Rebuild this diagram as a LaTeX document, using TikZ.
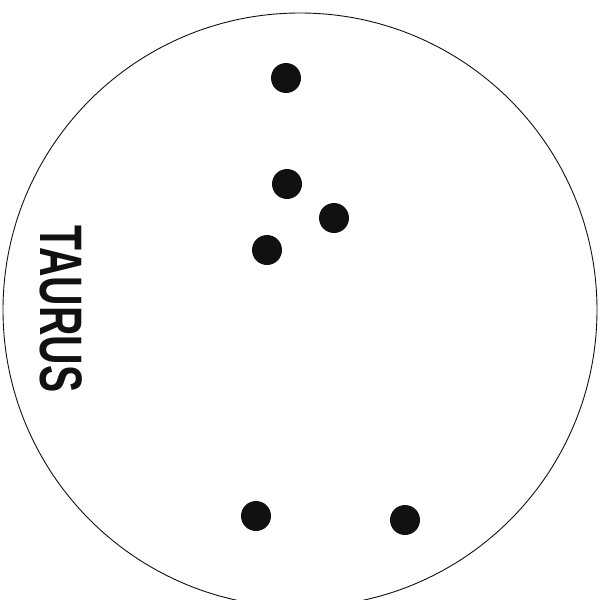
\documentclass[tikz,border=0pt]{standalone}
\usepackage{fontspec}
\setmainfont{Liberation Sans}
\usetikzlibrary{positioning}
\definecolor{sky-ink}{HTML}{111111}

\begin{document}
\begin{tikzpicture}[
    x=1pt, y=-1pt, % pixel grid of the chart, y pointing down
    font=\bfseries
  ]

  % Global Style Definitions
  \tikzset{
    starpt/.style={circle, fill=sky-ink, inner sep=0pt, minimum size=30pt},
    rim/.style={draw=sky-ink, line width=0.9pt}
  }

  \clip (0,0) rectangle (606,600);

  % Field of view
  \node (field) [rim, circle, minimum size=594pt, inner sep=0pt] at (300,310) {};

  % Constellation label
  \node (label) [rotate=-90, text=sky-ink, inner sep=0pt] at (61,309)
    {\scalebox{0.68}[1]{\fontsize{60}{60}\selectfont TAURUS}};

  % Stars
  \node (s1) [starpt] at (286,78) {};
  \node (s2) [starpt] at (287,184) {};
  \node (s3) [starpt] at (334,218) {};
  \node (s4) [starpt] at (267,250) {};
  \node (s5) [starpt] at (256,516) {};
  \node (s6) [starpt] at (405,520) {};

\end{tikzpicture}
\end{document}
